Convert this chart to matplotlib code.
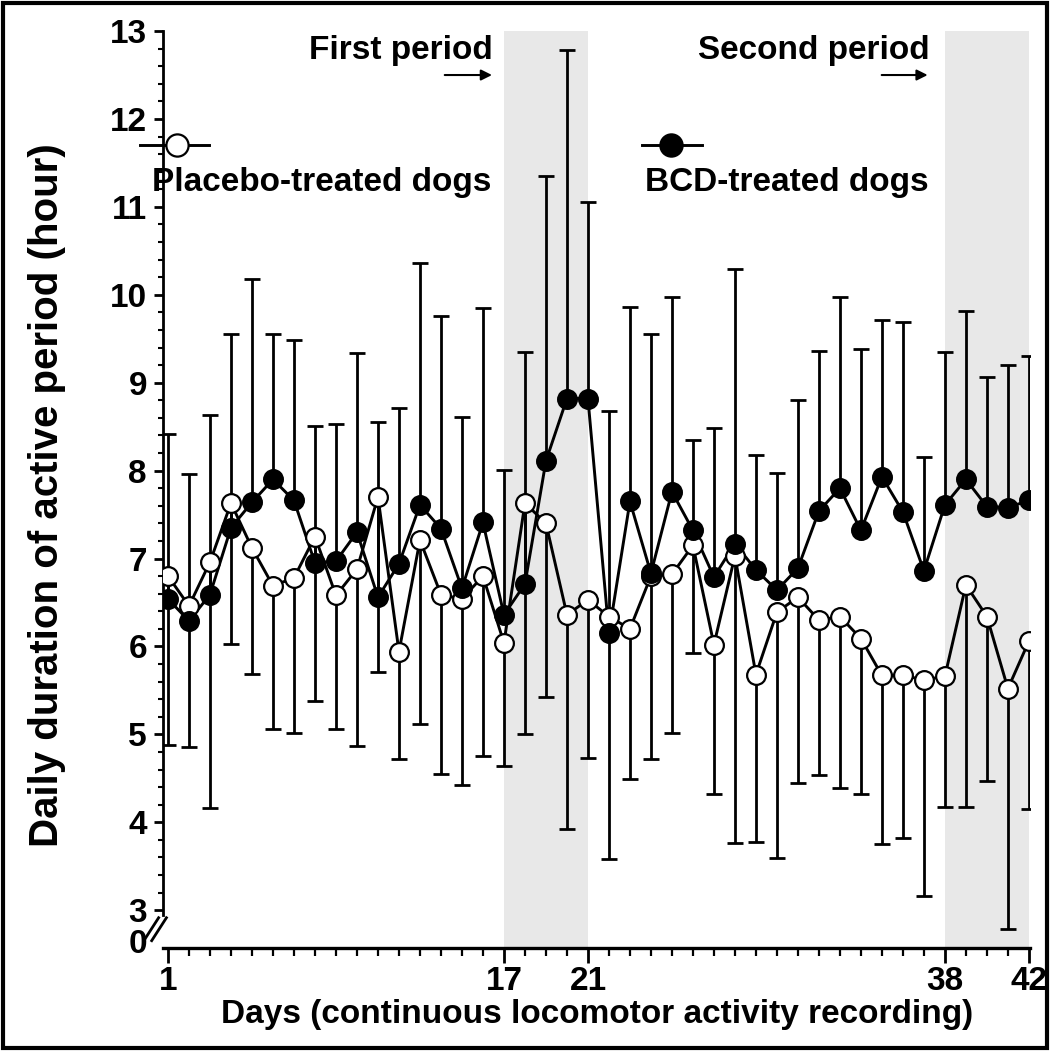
import numpy as np
import matplotlib
matplotlib.use('Agg')
import matplotlib.pyplot as plt
from matplotlib.ticker import FixedLocator
from matplotlib.patches import Rectangle

# ── Data ──────────────────────────────────────────────────────────────────────

days = np.arange(1, 43)

placebo = [6.80, 6.46, 6.96, 7.63, 7.12, 6.69, 6.78, 7.25, 6.58, 6.88,
           7.70, 5.94, 7.21, 6.59, 6.54, 6.80, 6.04, 7.63, 7.40, 6.36,
           6.53, 6.34, 6.20, 6.80, 6.82, 7.15, 6.02, 7.03, 5.68, 6.39,
           6.56, 6.30, 6.34, 6.09, 5.67, 5.67, 5.62, 5.66, 6.70, 6.34,
           5.52, 6.06]

bcd = [6.54, 6.29, 6.59, 7.35, 7.64, 7.90, 7.66, 6.95, 6.97, 7.30,
       6.56, 6.94, 7.61, 7.34, 6.66, 7.41, 6.36, 6.71, 8.11, 8.82,
       8.82, 6.15, 7.65, 6.83, 7.76, 7.32, 6.79, 7.17, 6.87, 6.64,
       6.89, 7.54, 7.80, 7.32, 7.93, 7.53, 6.86, 7.61, 7.90, 7.59,
       7.58, 7.66]

# upper end of the error bars (BCD group, drawn upward)
bcd_top = [8.42, 7.96, 8.63, 9.55, 10.18, 9.55, 9.48, 8.51, 8.53, 9.34,
           8.55, 8.71, 10.36, 9.76, 8.61, 9.85, 8.01, 9.35, 11.35, 12.78,
           11.06, 8.68, 9.86, 9.55, 9.98, 8.35, 8.49, 10.29, 8.18, 7.97,
           8.80, 9.36, 9.97, 9.38, 9.71, 9.69, 8.15, 9.35, 9.81, 9.07,
           9.20, 9.30]

# lower end of the error bars (placebo group, drawn downward)
placebo_bottom = [4.88, 4.86, 4.16, 6.03, 5.69, 5.06, 5.01, 5.38, 5.06, 4.87,
                  5.71, 4.72, 5.12, 4.55, 4.42, 4.75, 4.64, 5.00, 5.43, 3.92,
                  4.73, 3.58, 4.49, 4.72, 5.02, 5.93, 4.32, 3.76, 3.78, 3.59,
                  4.45, 4.54, 4.39, 4.32, 3.75, 3.82, 3.16, 4.17, 4.17, 4.47,
                  2.79, 4.15]

periods = [(17, 21), (38, 42)]
period_names = ['First period', 'Second period']
major_days = [1, 17, 21, 38, 42]
y_major = list(range(3, 14))
zero_pos = 2.65            # where the "0" label sits below the axis break

# ── Style ─────────────────────────────────────────────────────────────────────

plt.rcParams.update({
    'font.family': ['Liberation Sans', 'DejaVu Sans'],
    'font.weight': 'bold',
    'font.size': 24,
})

LW = 2.1
ELW = 2.0
SHADE = '#e8e8e8'

fig = plt.figure(figsize=(10.5, 10.51), dpi=100)
ax = fig.add_axes([0.1552, 0.098, 0.8257, 0.8725])

# shaded periods
for x0, x1 in periods:
    ax.axvspan(x0, x1, color=SHADE, lw=0, zorder=0)

bcd_arr = np.array(bcd)
pla_arr = np.array(placebo)
zeros = np.zeros(len(days))

ax.errorbar(days, bcd_arr, yerr=[zeros, np.array(bcd_top) - bcd_arr],
            fmt='none', ecolor='black', elinewidth=ELW, capsize=6,
            capthick=ELW, zorder=2)
ax.errorbar(days, pla_arr, yerr=[pla_arr - np.array(placebo_bottom), zeros],
            fmt='none', ecolor='black', elinewidth=ELW, capsize=6,
            capthick=ELW, zorder=2)

# connecting lines
ax.plot(days, placebo, color='black', lw=LW, zorder=3)
ax.plot(days, bcd, color='black', lw=LW, zorder=3)

# markers
ax.plot(days, placebo, ls='none', marker='o', ms=13.5, mfc='white',
        mec='black', mew=1.6, zorder=4)
ax.plot(days, bcd, ls='none', marker='o', ms=13.5, mfc='black',
        mec='black', mew=1.6, zorder=5)

# ── Axes ──────────────────────────────────────────────────────────────────────

ax.set_xlim(0.76, 42.05)
ax.set_ylim(2.57, 13.0)

for s in ('top', 'right'):
    ax.spines[s].set_visible(False)
ax.spines['left'].set_linewidth(2.0)
ax.spines['bottom'].set_linewidth(2.4)
ax.spines['left'].set_bounds(2.94, 13.0)

ax.set_xticks(major_days)
ax.set_xticklabels([str(d) for d in major_days])
ax.xaxis.set_minor_locator(FixedLocator(days))
ax.tick_params(axis='x', which='major', length=11, width=2.0, pad=2,
               labelsize=24)
ax.tick_params(axis='x', which='minor', length=6, width=1.6)

ax.set_yticks([zero_pos] + y_major)
ax.set_yticklabels(['0'] + [str(v) for v in y_major])
ax.yaxis.set_minor_locator(FixedLocator(np.arange(3, 13.01, 0.2)))
ax.tick_params(axis='y', which='major', length=6.5, width=2.0, pad=5,
               labelsize=24)
ax.tick_params(axis='y', which='minor', length=3.5, width=1.5)
ax.yaxis.get_major_ticks()[0].tick1line.set_visible(False)

# axis break marks  "//"
for dx in (-0.022, -0.013):
    ax.plot([dx, dx + 0.017], [0.008, 0.033], transform=ax.transAxes,
            color='black', lw=2.0, clip_on=False, zorder=6)

# ── Annotations & legend ──────────────────────────────────────────────────────

ax.text(0.3806, 0.979, period_names[0], transform=ax.transAxes,
        ha='right', va='center', fontsize=24)
ax.text(0.8847, 0.979, period_names[1], transform=ax.transAxes,
        ha='right', va='center', fontsize=24)
for xa, xb in ((0.325, 0.3795), (0.829, 0.882)):
    ax.annotate('', xy=(xb, 0.952), xytext=(xa, 0.952),
                xycoords='axes fraction',
                arrowprops=dict(arrowstyle='-|>', color='black', lw=1.5,
                                mutation_scale=16, shrinkA=0, shrinkB=0))

leg_y = 0.8757
ax.plot([-0.026, 0.053], [leg_y, leg_y], transform=ax.transAxes,
        color='black', lw=LW, clip_on=False)
ax.plot([0.016], [leg_y], transform=ax.transAxes, ls='none', marker='o',
        ms=16, mfc='white', mec='black', mew=1.6, clip_on=False)
ax.plot([0.552, 0.622], [leg_y, leg_y], transform=ax.transAxes,
        color='black', lw=LW)
ax.plot([0.586], [leg_y], transform=ax.transAxes, ls='none', marker='o',
        ms=16, mfc='black', mec='black', mew=1.6)

ax.text(-0.0127, 0.835, 'Placebo-treated dogs', transform=ax.transAxes,
        ha='left', va='center', fontsize=24)
ax.text(0.556, 0.835, 'BCD-treated dogs', transform=ax.transAxes,
        ha='left', va='center', fontsize=24)

fig.text(47 / 1050, 0.529, 'Daily duration of active period (hour)',
         rotation=90, ha='center', va='center', fontsize=29)
fig.text(597 / 1050, 0.0343,
         'Days (continuous locomotor activity recording)',
         ha='center', va='center', fontsize=24)

# frame round the whole picture
fig.patches.append(Rectangle((0.003, 0.003), 0.994, 0.994,
                             transform=fig.transFigure, fill=False,
                             edgecolor='black', lw=3.0))

fig.savefig('out.png', dpi=100)
